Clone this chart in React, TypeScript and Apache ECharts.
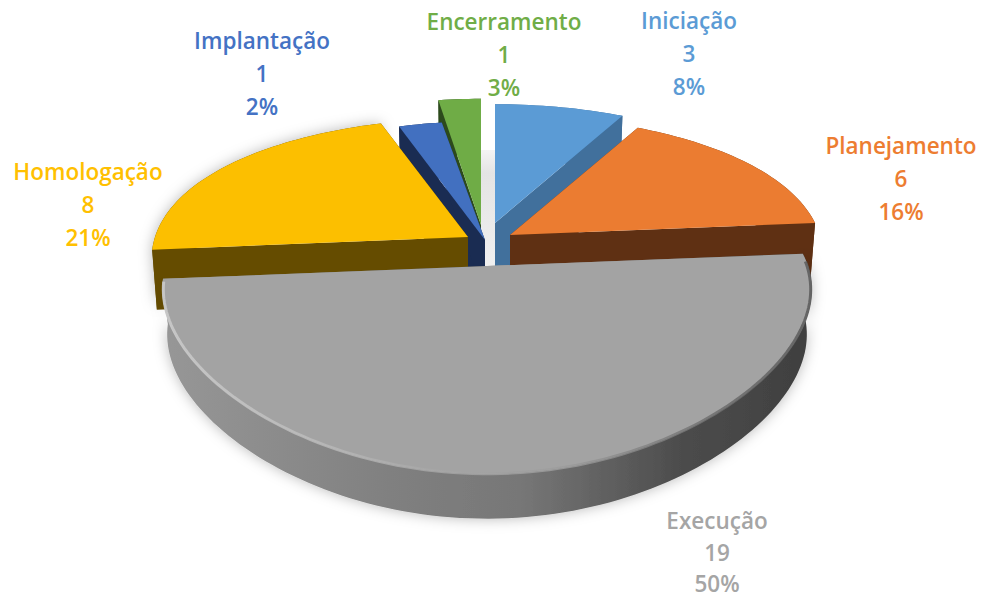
import React, { useEffect, useRef } from "react";
import * as echarts from "echarts";

const names = ["Iniciação", "Planejamento", "Execução", "Homologação", "Implantação", "Encerramento"];
const values = [3, 6, 19, 8, 1, 1];
const percents = [8, 16, 50, 21, 2, 3];
const colors = ["#5b9bd5", "#eb7c31", "#a3a3a3", "#fcbf00", "#4270c0", "#6fac46"];
const wallColors = ["#41709c", "#5f3013", "#808080", "#654c00", "#1a2c52", "#2c4a1c"];
const labelColors = ["#5b9bd5", "#ed7d31", "#a5a5a5", "#ffc000", "#4472c4", "#70ad47"];

// layout of each slice (explosion offset in px, radii, wall height)
const offsetX = [7, 22, -1, -20, -3, -7];
const offsetY = [-22, -10, 21, -8, -5, -20];
const radiusX = [309, 310, 321, 313, 309, 309];
const radiusY = [1, 1, 1.015, 1, 1, 1.08];
const wallH = [56, 56, 45, 60, 56, 56];
const labelX = [689, 901, 717, 88, 262, 504];
const labelY = [53, 178, 552, 204, 73, 54];
const labelGap = [33, 33, 31.5, 33, 33, 33];
const paintOrder = [5, 4, 0, 1, 3, 2];

const CX = 488;
const CY = 245;
const A = 150;
const K = 0.263;
const KX = 0.152;

const total = values.reduce((a, b) => a + b, 0);
const startAngle = (i: number) => (values.slice(0, i).reduce((a, b) => a + b, 0) / total) * 360;

function project(i: number, deg: number, down = 0, inset = 0): number[] {
  const t = (deg * Math.PI) / 180;
  const wx = Math.sin(t);
  const wy = -Math.cos(t) * radiusY[i];
  const px = (radiusX[i] - inset) * wx * (1 + KX * wy) * (down > 0 ? 0.985 : 1);
  const py = (A * wy) / (1 - K * wy);
  return [CX + offsetX[i] + px, CY + offsetY[i] + py + down];
}

function apex(i: number, down = 0): number[] {
  return [CX + offsetX[i], CY + offsetY[i] + down];
}

function arc(i: number, a0: number, a1: number, down = 0, inset = 0): number[][] {
  const out: number[][] = [];
  const n = Math.max(2, Math.ceil((a1 - a0) / 1.5));
  for (let k = 0; k <= n; k++) out.push(project(i, a0 + ((a1 - a0) * k) / n, down, inset));
  return out;
}

function renderItem(_params: any, api: any) {
  const i = api.value(0);
  const a0 = startAngle(i);
  const a1 = a0 + (api.value(1) / total) * 360;
  const h = wallH[i];
  const isGray = i === 2;
  const shadow = isGray || i === 3 ? { shadowBlur: 14, shadowColor: "rgba(0,0,0,0.28)" } : {};
  const wallFill: any = isGray
    ? new echarts.graphic.LinearGradient(0, 0, 1, 0, [
        { offset: 0, color: "#979797" },
        { offset: 0.35, color: "#808080" },
        { offset: 0.55, color: "#777777" },
        { offset: 0.8, color: "#4c4c4c" },
        { offset: 1, color: "#3f3f3f" },
      ])
    : wallColors[i];
  const children: any[] = [];
  const wall = (points: number[][], extra: any = {}) =>
    children.push({ type: "polygon", shape: { points }, style: { fill: wallFill, ...extra } });

  // outer wall first, so that its soft shadow stays behind the other walls
  wall([...arc(i, a0, a1), ...arc(i, a0, a1, h).reverse()], shadow);
  // radial walls
  [a0, a1].forEach((a) => {
    wall([apex(i), project(i, a), project(i, a, h), apex(i, h)]);
  });
  // top
  children.push({
    type: "polygon",
    shape: { points: [apex(i), ...arc(i, a0, a1)] },
    style: { fill: colors[i] },
  });
  if (isGray) {
    const rimStops = [
      { offset: 0, color: "#cccccc" },
      { offset: 0.22, color: "#bcbcbc" },
      { offset: 0.42, color: "#a6a6a6" },
      { offset: 0.62, color: "#9c9c9c" },
      { offset: 0.85, color: "#6e6e6e" },
      { offset: 1, color: "#5a5a5a" },
    ];
    children.push({
      type: "polyline",
      shape: { points: arc(i, a0 + 3, a1 - 1, 0, 1) },
      style: {
        fill: "none",
        lineWidth: 3,
        opacity: 0.85,
        stroke: new echarts.graphic.LinearGradient(0, 0, 1, 0, rimStops),
      },
    });
  }
  [names[i], String(values[i]), `${percents[i]}%`].forEach((line, k) => {
    children.push({
      type: "text",
      style: {
        text: line,
        x: labelX[i],
        y: labelY[i] + (k - 1) * labelGap[i],
        align: "center",
        verticalAlign: "middle",
        fill: labelColors[i],
        fontFamily: "Open Sans",
        fontWeight: 600,
        fontSize: 22.5,
        lineHeight: 22,
      },
    });
  });
  return { type: "group", children };
}

export default function App() {
  const ref = useRef<HTMLDivElement>(null);
  useEffect(() => {
    document.body.style.margin = "0";
    const chart = echarts.init(ref.current!, null, { renderer: "svg" });
    chart.setOption({
      animation: false,
      backgroundColor: "#ffffff",
      graphic: [
        {
          type: "rect",
          z: 0,
          shape: { x: 481, y: 150, width: 14, height: 116 },
          style: {
            fill: new echarts.graphic.LinearGradient(0, 0, 0, 1, [
              { offset: 0, color: "#f4f4f4" },
              { offset: 0.2, color: "#e4e4e4" },
              { offset: 1, color: "#f0f0f0" },
            ]),
          },
        },
      ],
      series: [
        {
          type: "custom",
          coordinateSystem: "none",
          z: 2,
          renderItem,
          data: paintOrder.map((i) => [i, values[i]]),
        },
      ],
    });
    return () => chart.dispose();
  }, []);
  return <div ref={ref} style={{ width: 982, height: 599 }} />;
}
